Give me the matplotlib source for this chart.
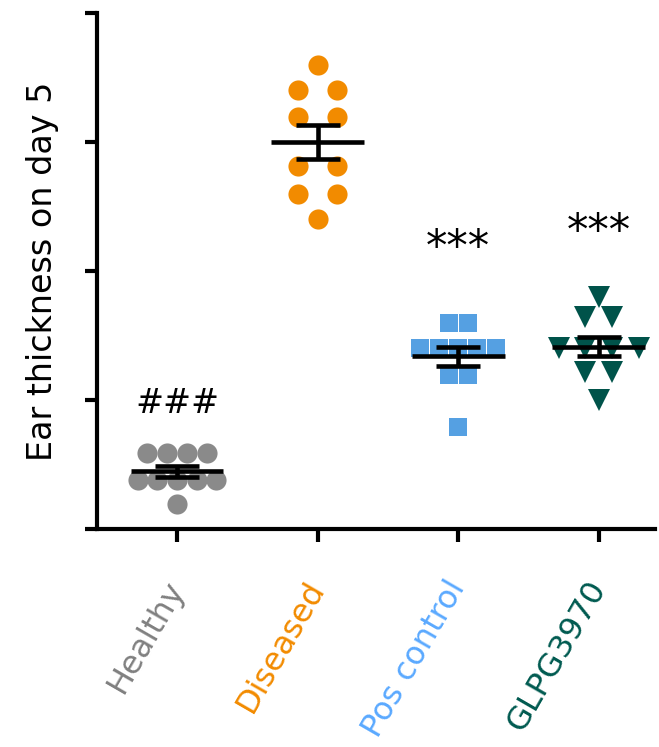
import numpy as np
import matplotlib
matplotlib.use("Agg")
import matplotlib.pyplot as plt

# Ear thickness on day 5 (arbitrary units)
groups = ["Healthy", "Diseased", "Pos control", "GLPG3970"]
healthy = [0.59, 0.59, 0.59, 0.59, 0.38, 0.38, 0.38, 0.38, 0.38, 0.19]
diseased = [3.60, 3.40, 3.40, 3.19, 3.19, 2.81, 2.81, 2.60, 2.60, 2.40]
pos_control = [1.60, 1.60, 1.40, 1.40, 1.40, 1.40, 1.40, 1.19, 1.19, 0.79]
glpg3970 = [1.80, 1.64, 1.64, 1.40, 1.40, 1.40, 1.40, 1.22, 1.22, 1.00]
marks = ["###", "", "***", "***"]

values = [healthy, diseased, pos_control, glpg3970]
markers = ["o", "o", "s", "v"]
point_colors = ["#8a8a8a", "#f28b00", "#55a0e2", "#00534a"]
label_colors = ["#808080", "#f28b00", "#5aa9ff", "#005a50"]
spreads = [0.14, 0.28, 0.135, 0.19]
mark_y = [0.97, None, 2.18, 2.3]
mark_size = [24, None, 31, 31]

fig = plt.figure(figsize=(6.59, 7.47), dpi=100)
ax = fig.add_axes([0.147, 0.292, 0.847, 0.6906])

for i, vals in enumerate(values):
    vals = np.array(vals)
    # simple swarm: spread equal values side by side
    xs = np.zeros(len(vals))
    for v in np.unique(vals):
        idx = np.where(vals == v)[0]
        xs[idx] = i + (np.arange(len(idx)) - (len(idx) - 1) / 2) * spreads[i]
    ms = 14.5 if markers[i] != "v" else 15.5
    if markers[i] == "s":
        ms = 13.5
    ax.plot(xs, vals, linestyle="none", marker=markers[i], ms=ms,
            color=point_colors[i], markeredgewidth=0, zorder=2)

    mean = vals.mean()
    sem = vals.std(ddof=1) / np.sqrt(len(vals))
    ax.hlines(mean, i - 0.33, i + 0.33, color="black", lw=3.3, zorder=3)
    ax.errorbar(i, mean, yerr=sem, color="black", lw=3.3, capsize=16,
                capthick=3.3, zorder=3)

    if marks[i]:
        ax.text(i, mark_y[i], marks[i], ha="center", va="center",
                fontsize=mark_size[i], color="black")

ax.set_xlim(-0.57, 3.4)
ax.set_ylim(0, 4)
ax.set_yticks([0, 1, 2, 3, 4])
ax.set_yticklabels([])
ax.set_xticks(range(len(groups)))
ax.set_xticklabels(groups, rotation=60, ha="right", va="center",
                   rotation_mode="anchor", fontsize=23)
for lbl, c in zip(ax.get_xticklabels(), label_colors):
    lbl.set_color(c)

ax.spines["top"].set_visible(False)
ax.spines["right"].set_visible(False)
ax.spines["left"].set_linewidth(3)
ax.spines["bottom"].set_linewidth(3)
ax.tick_params(axis="both", direction="out", length=9, width=3)
ax.tick_params(axis="x", pad=30)
ax.set_ylabel("Ear thickness on day 5", fontsize=24, labelpad=15)

fig.savefig("out.png", dpi=100)
